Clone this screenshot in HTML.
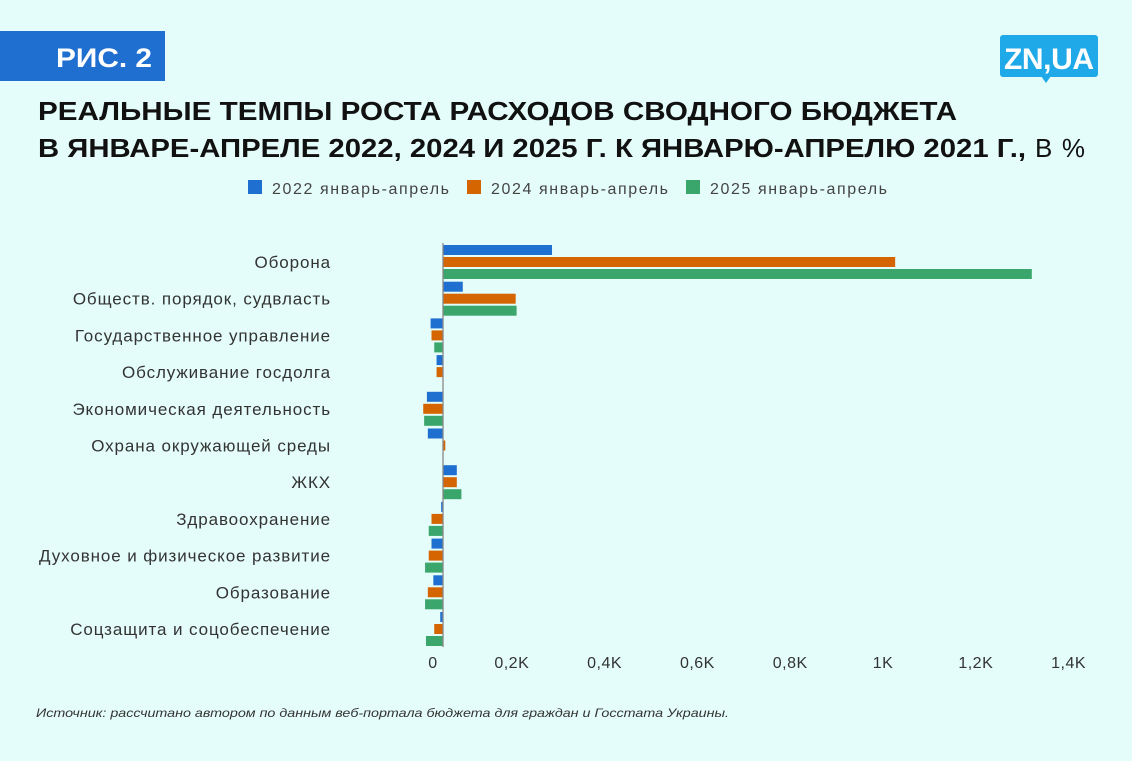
<!DOCTYPE html>
<html><head><meta charset="utf-8"><style>
body{margin:0;background:#e4fdfa;}
#wrap{position:relative;width:1132px;height:761px;overflow:hidden;background:#e4fdfa;font-family:"Liberation Sans",sans-serif;}
svg text{font-family:"Liberation Sans",sans-serif;}
</style></head><body>
<div id="wrap">
<svg id="chart" width="1132" height="761">
  <rect x="0" y="31" width="165" height="50" fill="#1f6fd0"/>
  <text x="56" y="67" font-size="27" font-weight="bold" fill="#fff" textLength="96" lengthAdjust="spacingAndGlyphs">РИС. 2</text>
  <g>
    <rect x="1000" y="35" width="98" height="42" rx="3" fill="#1fa9e8"/>
    <path d="M1041 76 L1046 83 L1051 76 Z" fill="#1fa9e8"/>
    <text x="1049" y="69" font-size="30" font-weight="bold" fill="#fff" text-anchor="middle" textLength="90">ZN,UA</text>
  </g>
  <text x="38" y="120" font-size="26" font-weight="bold" fill="#111" textLength="919" lengthAdjust="spacingAndGlyphs">РЕАЛЬНЫЕ ТЕМПЫ РОСТА РАСХОДОВ СВОДНОГО БЮДЖЕТА</text>
  <text x="38" y="157" font-size="26" font-weight="bold" fill="#111" textLength="988" lengthAdjust="spacingAndGlyphs">В ЯНВАРЕ-АПРЕЛЕ 2022, 2024 И 2025 Г. К ЯНВАРЮ-АПРЕЛЮ 2021 Г.,</text>
  <text x="1035" y="157" font-size="26" fill="#111" textLength="50">В %</text>
  <g id="legend"></g>
  <g id="bars"></g>
  <g id="cats"></g>
  <g id="ticks"></g>
  <line x1="443" y1="243" x2="443" y2="647" stroke="#888" stroke-width="1.3"/>
  <text x="36" y="717" font-size="12" font-style="italic" fill="#333" textLength="693" lengthAdjust="spacingAndGlyphs">Источник: рассчитано автором по данным веб-портала бюджета для граждан и Госстата Украины.</text>
</svg>
</div>
<script>
const categories=["Оборона","Обществ. порядок, судвласть","Государственное управление","Обслуживание госдолга","Экономическая деятельность","Охрана окружающей среды","ЖКХ","Здравоохранение","Духовное и физическое развитие","Образование","Соцзащита и соцобеспечение"];
const s2022=[237,43,-27,-14,-35,-33,30,-4,-25,-21,-6];
const s2024=[983,158,-25,-14,-43,5,30,-25,-31,-33,-19];
const s2025=[1280,160,-19,0,-41,0,40,-31,-39,-39,-37];
const seriesNames=["2022 январь-апрель","2024 январь-апрель","2025 январь-апрель"];
const tickValues=[0,200,400,600,800,1000,1200,1400];
const tickLabels=["0","0,2K","0,4K","0,6K","0,8K","1K","1,2K","1,4K"];
const colors=["#1f6fd0","#d46500","#3aa66b"];
const NS="http://www.w3.org/2000/svg";
const x=v=>443+v*0.46;
const yc=i=>262+i*36.7;
function mk(tag,attrs,parent){const e=document.createElementNS(NS,tag);for(const k in attrs)e.setAttribute(k,attrs[k]);parent.appendChild(e);return e;}
const bars=document.getElementById('bars'),cats=document.getElementById('cats'),ticks=document.getElementById('ticks'),legend=document.getElementById('legend');
const series=[s2022,s2024,s2025];
categories.forEach((c,i)=>{
  const t=mk('text',{x:331,y:yc(i)+6,'font-size':17,fill:'#333','text-anchor':'end','letter-spacing':'0.9'},cats);
  t.textContent=c;
  
  
  series.forEach((s,j)=>{
    const v=s[i];if(v===0)return;
    const x0=Math.min(x(0),x(v)),w=Math.abs(x(v)-x(0));
    const r=mk('rect',{x:x0,y:yc(i)-17+j*12,width:w,height:10,fill:colors[j]},bars);
    
    
  });
});
tickValues.forEach((v,i)=>{
  const t=mk('text',{x:i===0?433:x(v)-24+v*0.004,y:668,'font-size':16,fill:'#333','text-anchor':'middle','letter-spacing':'0.5'},ticks);
  t.textContent=tickLabels[i];
  
  
});
const lx=[248,467,686];
seriesNames.forEach((n,j)=>{
  const r=mk('rect',{x:lx[j],y:180,width:14,height:14,fill:colors[j]},legend);
  
  
  const t=mk('text',{x:lx[j]+24,y:194,'font-size':16,fill:'#444',textLength:177},legend);
  t.textContent=n;
  
  
});
</script>
</body></html>
